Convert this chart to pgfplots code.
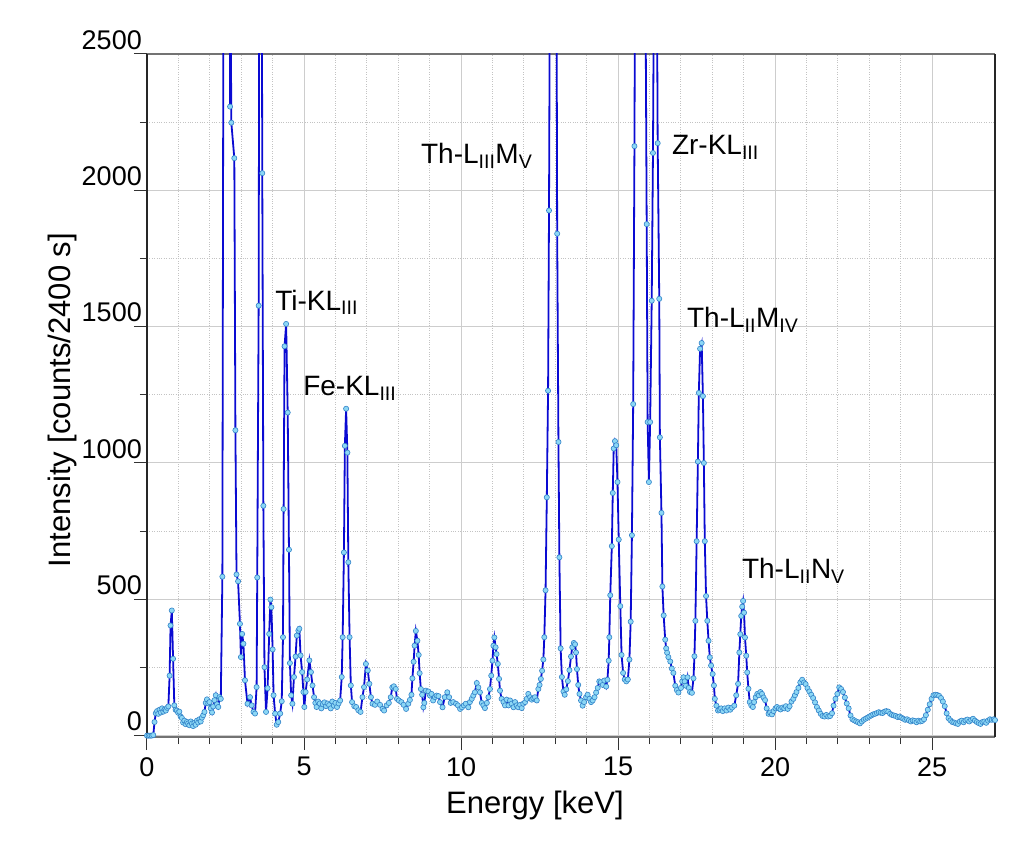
\documentclass[border=0pt]{standalone}
\usepackage{fontspec}
\setmainfont{Liberation Sans}
\usepackage{pgfplots}
\pgfplotsset{compat=1.18}
\usepackage{pgfplotstable}
\definecolor{lineblue}{RGB}{10,10,210}
\definecolor{markfill}{RGB}{140,215,245}
\definecolor{markdraw}{RGB}{50,130,200}
\definecolor{majgrid}{RGB}{205,205,205}
\definecolor{mingrid}{RGB}{195,195,195}

\pgfplotstableread{
x y
0.00 0
0.05 0
0.10 0
0.15 0
0.20 2
0.24 50
0.28 82
0.32 90
0.36 80
0.40 95
0.44 85
0.48 100
0.52 88
0.56 96
0.60 92
0.64 102
0.68 107
0.72 220
0.75 404
0.79 459
0.83 282
0.87 111
0.91 95
0.95 92
0.99 84
1.03 88
1.07 70
1.11 65
1.15 48
1.19 55
1.23 42
1.27 50
1.31 45
1.35 38
1.39 52
1.43 44
1.47 35
1.51 47
1.55 40
1.59 55
1.63 48
1.67 60
1.71 52
1.75 66
1.79 75
1.83 87
1.87 120
1.91 133
1.95 118
1.99 123
2.03 100
2.07 85
2.11 107
2.15 130
2.19 148
2.23 115
2.27 105
2.31 141
2.35 135
2.40 583
2.44 3200
2.48 6000
2.53 8000
2.58 7000
2.62 3800
2.645 2307
2.665 2650
2.685 2248
2.78 2118
2.815 1120
2.85 591
2.90 566
2.96 410
2.99 288
3.03 373
3.07 337
3.12 203
3.20 117
3.28 141
3.33 111
3.39 87
3.44 81
3.49 178
3.51 580
3.555 1577
3.60 4500
3.635 4000
3.67 2063
3.705 843
3.74 251
3.79 87
3.84 174
3.89 373
3.93 499
3.96 471
4.00 316
4.03 148
4.08 81
4.13 40
4.18 50
4.24 81
4.29 126
4.33 361
4.35 831
4.38 1428
4.43 1510
4.48 1185
4.52 682
4.55 266
4.59 148
4.63 117
4.68 215
4.73 290
4.77 367
4.82 385
4.85 392
4.89 294
4.94 233
4.98 160
5.01 105
5.05 160
5.10 206
5.17 276
5.22 233
5.27 184
5.32 141
5.36 120
5.40 105
5.45 125
5.50 118
5.55 100
5.60 115
5.65 122
5.70 108
5.75 118
5.80 112
5.85 100
5.90 125
5.95 110
6.00 120
6.05 105
6.10 118
6.15 129
6.20 215
6.23 361
6.27 672
6.30 1063
6.34 1199
6.38 1038
6.41 636
6.45 361
6.49 184
6.53 123
6.60 108
6.66 105
6.73 93
6.80 87
6.86 141
6.91 178
6.97 263
7.03 239
7.08 190
7.13 141
7.18 117
7.26 113
7.33 125
7.42 113
7.50 98
7.55 92
7.63 111
7.70 120
7.76 141
7.81 177
7.86 181
7.92 171
7.96 135
8.02 129
8.10 123
8.17 113
8.25 98
8.32 117
8.37 131
8.42 150
8.45 210
8.49 271
8.52 330
8.56 384
8.61 348
8.65 296
8.68 229
8.72 171
8.76 150
8.80 104
8.83 120
8.88 165
8.96 162
9.01 147
9.06 153
9.11 129
9.17 141
9.22 147
9.28 145
9.33 123
9.41 104
9.48 141
9.56 159
9.62 141
9.67 120
9.75 123
9.84 117
9.90 111
9.97 98
10.03 104
10.09 111
10.15 117
10.23 104
10.28 123
10.34 135
10.39 147
10.44 159
10.50 193
10.55 177
10.60 159
10.66 120
10.71 111
10.76 101
10.82 120
10.87 141
10.92 171
10.96 220
11.00 275
11.03 330
11.06 360
11.10 324
11.13 299
11.17 263
11.21 208
11.24 165
11.29 135
11.35 123
11.40 111
11.45 132
11.51 111
11.56 129
11.61 117
11.67 104
11.72 123
11.77 111
11.82 104
11.88 113
11.93 101
11.98 117
12.04 123
12.09 135
12.14 153
12.20 141
12.25 132
12.30 137
12.35 141
12.41 129
12.46 171
12.50 186
12.54 208
12.58 238
12.62 279
12.65 361
12.69 533
12.73 874
12.77 1265
12.80 1926
12.85 3500
12.90 5500
12.95 6200
13.00 5000
13.03 3200
13.06 1841
13.10 1077
13.13 654
13.17 320
13.21 215
13.26 162
13.30 150
13.35 170
13.40 200
13.45 240
13.50 290
13.54 324
13.59 340
13.63 335
13.66 305
13.69 244
13.73 186
13.77 153
13.82 129
13.87 110
13.92 123
13.98 141
14.03 150
14.09 135
14.14 123
14.19 129
14.25 141
14.30 158
14.35 175
14.40 199
14.45 196
14.51 186
14.56 202
14.62 180
14.66 205
14.70 275
14.72 361
14.75 515
14.80 695
14.83 890
14.86 1053
14.90 1080
14.94 1065
14.98 930
15.02 719
15.07 475
15.11 296
15.16 230
15.21 206
15.26 199
15.31 206
15.36 279
15.40 418
15.44 735
15.48 1216
15.52 2162
15.56 3500
15.62 5500
15.68 7000
15.74 6500
15.80 5000
15.86 3000
15.91 1876
15.94 1150
15.98 930
16.02 1150
16.07 1595
16.11 2137
16.15 3000
16.19 3300
16.23 2900
16.26 2173
16.31 1602
16.33 1094
16.38 817
16.41 547
16.45 441
16.50 352
16.53 320
16.56 304
16.60 288
16.66 272
16.71 246
16.76 230
16.82 183
16.87 167
16.92 158
17.00 175
17.04 199
17.08 214
17.12 199
17.16 183
17.21 214
17.25 175
17.29 160
17.35 157
17.40 210
17.43 291
17.46 421
17.50 713
17.54 1005
17.57 1257
17.61 1419
17.66 1440
17.70 1245
17.73 1000
17.76 713
17.80 512
17.84 421
17.88 348
17.92 287
17.96 257
18.01 226
18.05 184
18.08 135
18.13 110
18.18 92
18.23 95
18.28 100
18.33 90
18.39 100
18.45 92
18.51 103
18.57 95
18.63 103
18.70 110
18.76 148
18.82 190
18.86 305
18.89 372
18.92 439
18.95 473
18.98 494
19.01 451
19.04 360
19.08 293
19.11 232
19.15 172
19.19 123
19.24 111
19.29 105
19.33 123
19.38 141
19.43 153
19.48 148
19.53 160
19.58 153
19.63 140
19.68 130
19.73 100
19.79 80
19.84 85
19.90 78
19.95 90
20.01 100
20.06 105
20.12 100
20.17 96
20.23 103
20.29 100
20.34 108
20.40 98
20.46 108
20.52 125
20.58 135
20.63 148
20.68 160
20.74 175
20.80 195
20.86 205
20.92 195
20.97 189
21.03 174
21.09 162
21.15 150
21.21 138
21.27 122
21.33 105
21.39 92
21.45 80
21.51 72
21.57 70
21.63 76
21.69 70
21.75 72
21.81 82
21.86 110
21.92 135
21.98 153
22.04 177
22.10 171
22.16 160
22.22 140
22.28 118
22.34 100
22.40 74
22.46 60
22.52 56
22.58 52
22.64 49
22.70 45
22.76 52
22.82 58
22.88 62
22.94 66
23.00 70
23.06 74
23.12 78
23.18 80
23.24 83
23.30 86
23.36 84
23.42 83
23.48 88
23.54 90
23.60 88
23.66 80
23.72 76
23.78 74
23.84 72
23.90 68
23.96 70
24.02 66
24.08 62
24.14 58
24.20 60
24.26 56
24.32 52
24.38 56
24.44 54
24.50 49
24.56 55
24.62 52
24.68 54
24.74 60
24.80 75
24.86 95
24.92 115
24.98 135
25.04 148
25.10 150
25.16 149
25.22 146
25.28 138
25.34 125
25.40 108
25.46 82
25.52 64
25.58 56
25.64 50
25.70 48
25.76 45
25.82 43
25.88 52
25.94 55
26.00 49
26.06 56
26.12 59
26.18 52
26.24 58
26.30 62
26.36 55
26.42 50
26.48 46
26.54 43
26.60 50
26.66 52
26.72 47
26.78 55
26.84 60
26.90 58
26.96 60
27.00 57
}\spectrum

\begin{document}
\begin{tikzpicture}
\useasboundingbox (-147bp,-109bp) rectangle (877bp,737bp);
\begin{axis}[
  at={(0,0)}, anchor=south west,
  width=848bp, height=683bp, scale only axis,
  xmin=0, xmax=27, ymin=-5, ymax=2500,
  xtick={0,5,...,25}, ytick={0,500,...,2500},
  minor x tick num=4, minor y tick num=1,
  grid=both,
  major grid style={majgrid, line width=1bp},
  minor grid style={mingrid, dotted, line width=1bp},
  tick align=outside,
  xtick pos=left, ytick pos=left,
  major tick length=13bp, minor tick length=7bp,
  tick style={black!80, line width=1bp},
  separate axis lines,
  x axis line style={black!55, line width=1.5bp},
  y axis line style={black!85, line width=1.3bp},
  /pgf/number format/assume math mode=true,
  /pgf/number format/set thousands separator={},
  ticklabel style={font=\fontsize{27bp}{30bp}\selectfont},
  yticklabel style={anchor=east, inner sep=0pt, yshift=14bp, xshift=8bp},
  xticklabel style={anchor=north, inner sep=0pt, yshift=-7bp},
  xlabel={Energy [keV]},
  ylabel={Intensity [counts/2400 s]},
  xlabel style={font=\fontsize{31bp}{36bp}\selectfont, inner sep=0pt,
    at={(axis description cs:0.4575,0)}, anchor=north, yshift=-54bp},
  ylabel style={font=\fontsize{31bp}{36bp}\selectfont, inner sep=0pt,
    at={(axis description cs:-0.1002,0.4934)}, anchor=center},
]
\addplot[color=lineblue, line width=1.8bp, mark=*, mark size=2.6bp,
  mark options={fill=markfill, draw=markdraw, line width=0.6bp}] table {\spectrum};
\node[anchor=base west, inner sep=0pt, font=\fontsize{28bp}{30bp}\selectfont] at (axis cs:4.08,1561) {Ti-KL\textsubscript{III}};
\node[anchor=base west, inner sep=0pt, font=\fontsize{28bp}{30bp}\selectfont] at (axis cs:4.97,1249) {Fe-KL\textsubscript{III}};
\node[anchor=base west, inner sep=0pt, font=\fontsize{28bp}{30bp}\selectfont] at (axis cs:8.72,2099) {Th-L\textsubscript{III}M\textsubscript{V}};
\node[anchor=base west, inner sep=0pt, font=\fontsize{28bp}{30bp}\selectfont] at (axis cs:16.71,2130) {Zr-KL\textsubscript{III}};
\node[anchor=base west, inner sep=0pt, font=\fontsize{28bp}{30bp}\selectfont] at (axis cs:17.19,1498) {Th-L\textsubscript{II}M\textsubscript{IV}};
\node[anchor=base west, inner sep=0pt, font=\fontsize{28bp}{30bp}\selectfont] at (axis cs:18.94,577) {Th-L\textsubscript{II}N\textsubscript{V}};
\end{axis}
\end{tikzpicture}
\end{document}
